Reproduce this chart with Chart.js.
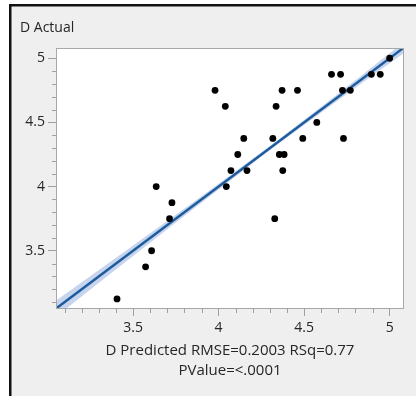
<!DOCTYPE html>
<html>
<head>
<meta charset="utf-8">
<script src="https://cdn.jsdelivr.net/npm/chart.js@4/dist/chart.umd.min.js"></script>
<style>
  html, body { margin: 0; padding: 0; background: #ffffff; }
  #wrap { width: 416px; height: 396px; position: relative; }
</style>
</head>
<body>
<div id="wrap"><canvas id="c" width="416" height="396"></canvas></div>
<script>
// ---- data ----
const predicted = [3.979, 4.039, 4.371, 4.336, 4.461, 4.660, 4.713, 4.724, 4.770, 4.893,
                   4.945, 5.000, 4.574, 4.147, 4.317, 4.492, 4.730, 4.112, 4.355, 4.383,
                   4.072, 4.166, 4.375, 3.635, 4.045, 3.727, 3.713, 4.328, 3.608, 3.573, 3.406];
const actual    = [4.75, 4.625, 4.75, 4.625, 4.75, 4.875, 4.875, 4.75, 4.75, 4.875,
                   4.875, 5.0, 4.5, 4.375, 4.375, 4.375, 4.375, 4.25, 4.25, 4.25,
                   4.125, 4.125, 4.125, 4.0, 4.0, 3.875, 3.75, 3.75, 3.5, 3.375, 3.125];
// fit line (actual vs predicted: slope 1, intercept 0)
const fitX = [3.0, 5.1];
const fitSlope = 1, fitIntercept = 0;
// confidence band half-widths
const bandX    = [3.0,  3.3,  3.5,  3.75, 4.0,  4.32, 4.6,  4.85, 5.1];
const bandHalf = [0.065, 0.05, 0.04, 0.03, 0.022, 0.016, 0.022, 0.032, 0.045];
// axes
const xRange = [3.055, 5.078];
const yRange = [3.054, 5.072];
const xTickValues = [3.5, 4, 4.5, 5];
const yTickValues = [3.5, 4, 4.5, 5];
const xMinorTicks = [3.1,3.2,3.3,3.4,3.6,3.7,3.8,3.9,4.1,4.2,4.3,4.4,4.6,4.7,4.8,4.9];
const yMinorTicks = [3.1,3.2,3.3,3.4,3.6,3.7,3.8,3.9,4.1,4.2,4.3,4.4,4.6,4.7,4.8,4.9];
const yTitle = 'D Actual';
const xTitle = ['D Predicted RMSE=0.2003 RSq=0.77', 'PValue=<.0001'];

const FONT = '"Open Sans", "Noto Sans", sans-serif';
const TEXT = '#262626';
const TICK = '#a0a0a0';

const points = predicted.map((p, i) => ({x: p, y: actual[i]}));
const fitPts = fitX.map(x => ({x: x, y: fitIntercept + fitSlope * x}));
const bandLo = bandX.map((x, i) => ({x: x, y: fitIntercept + fitSlope * x - bandHalf[i]}));
const bandHi = bandX.map((x, i) => ({x: x, y: fitIntercept + fitSlope * x + bandHalf[i]}));

const framePlugin = {
  id: 'frame',
  beforeDraw(chart) {
    const ctx = chart.ctx, a = chart.chartArea;
    ctx.save();
    ctx.fillStyle = '#ffffff';
    ctx.fillRect(0, 0, chart.width, chart.height);
    ctx.fillStyle = '#efefef';
    ctx.fillRect(9, 4, chart.width - 9, chart.height - 4);
    ctx.fillStyle = '#111111';
    ctx.fillRect(9, 4, chart.width - 9, 2.5);
    ctx.fillRect(9, 4, 2.5, chart.height - 4);
    ctx.fillStyle = '#ffffff';
    ctx.fillRect(a.left, a.top, a.right - a.left, a.bottom - a.top);
    ctx.strokeStyle = '#a8a8a8';
    ctx.lineWidth = 1;
    ctx.strokeRect(a.left - 0.5, a.top - 0.5, a.right - a.left + 1, a.bottom - a.top + 1);
    ctx.restore();
  },
  afterDraw(chart) {
    const ctx = chart.ctx, a = chart.chartArea;
    const xs = chart.scales.x, ys = chart.scales.y;
    ctx.save();
    ctx.strokeStyle = TICK;
    ctx.lineWidth = 1;
    ctx.beginPath();
    xMinorTicks.forEach(v => {
      const px = Math.round(xs.getPixelForValue(v)) + 0.5;
      ctx.moveTo(px, a.bottom); ctx.lineTo(px, a.bottom + 5);
    });
    yMinorTicks.forEach(v => {
      const py = Math.round(ys.getPixelForValue(v)) + 0.5;
      ctx.moveTo(a.left, py); ctx.lineTo(a.left - 5, py);
    });
    ctx.stroke();
    ctx.restore();
  }
};

new Chart(document.getElementById('c'), {
  type: 'scatter',
  data: {
    datasets: [
      { data: points, backgroundColor: '#000000', borderWidth: 0, pointRadius: 3.4,
        pointHoverRadius: 3.4, order: 0 },
      { data: fitPts, showLine: true, borderColor: '#1d5c9c', borderWidth: 2.4,
        pointRadius: 0, fill: false, order: 1 },
      { data: bandLo, showLine: true, borderWidth: 0, borderColor: 'rgba(0,0,0,0)',
        pointRadius: 0, fill: false, order: 3 },
      { data: bandHi, showLine: true, borderWidth: 0, borderColor: 'rgba(0,0,0,0)',
        pointRadius: 0, fill: '-1', backgroundColor: 'rgba(130,160,218,0.45)', order: 2 }
    ]
  },
  options: {
    responsive: false,
    animation: false,
    events: [],
    layout: { padding: { left: 20, right: 13, top: 0, bottom: 0 } },
    plugins: {
      legend: { display: false },
      tooltip: { enabled: false },
      title: {
        display: true, text: yTitle, align: 'start', color: TEXT,
        font: { family: FONT, size: 14, weight: 'normal', lineHeight: '16.8px' },
        padding: { top: 19.5, bottom: 12.7 }
      }
    },
    scales: {
      x: {
        type: 'linear', min: xRange[0], max: xRange[1],
        afterBuildTicks(s) { s.ticks = xTickValues.map(v => ({value: v})); },
        afterFit(s) { s.height = 88; },
        ticks: { color: TEXT, font: { family: FONT, size: 14 }, padding: 4,
                 maxRotation: 0, autoSkip: false, callback: v => String(v) },
        grid: { drawOnChartArea: false, drawTicks: true, tickLength: 8, tickColor: TICK, tickWidth: 1 },
        border: { display: false },
        title: { display: true, text: xTitle, color: TEXT,
                 font: { family: FONT, size: 15, lineHeight: '20.5px' },
                 padding: { top: 0, bottom: 15 } }
      },
      y: {
        type: 'linear', min: yRange[0], max: yRange[1],
        afterBuildTicks(s) { s.ticks = yTickValues.map(v => ({value: v})); },
        afterFit(s) { s.width = 37; },
        ticks: { color: TEXT, font: { family: FONT, size: 14 }, padding: 3,
                 autoSkip: false, callback: v => String(v) },
        grid: { drawOnChartArea: false, drawTicks: true, tickLength: 9, tickColor: TICK, tickWidth: 1 },
        border: { display: false }
      }
    }
  },
  plugins: [framePlugin]
});
</script>
</body>
</html>
